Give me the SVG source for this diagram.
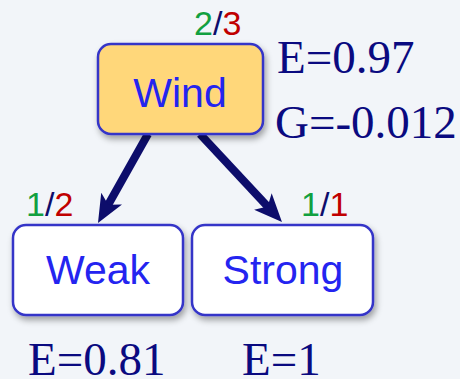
<svg xmlns="http://www.w3.org/2000/svg" width="460" height="379" viewBox="0 0 460 379">
<defs>
<filter id="sh" x="-10%" y="-10%" width="130%" height="140%">
<feDropShadow dx="2" dy="4" stdDeviation="3" flood-color="#000" flood-opacity="0.35"/>
</filter>
<marker id="ah" markerUnits="userSpaceOnUse" viewBox="0 0 28 24" markerWidth="28" markerHeight="24" refX="10" refY="12" orient="auto">
<path d="M0,0 L28,12 L0,24 L7,12 z" fill="#0d0d6b"/>
</marker>
<style>
.box{stroke:#3434c8;stroke-width:2.5}
.lbl{font-family:"Liberation Sans",Arial,sans-serif;font-size:41px;fill:#2424f0;text-anchor:middle}
.cnt{font-family:"Liberation Sans",Arial,sans-serif;font-size:34px}
.g{fill:#12a040}.r{fill:#c00000}.s{fill:#0d0d6b}
.ent{font-family:"Liberation Serif","Times New Roman",serif;font-size:47px;fill:#0a0a80}
.arr{stroke:#0d0d6b;stroke-width:8;fill:none;marker-end:url(#ah)}
</style>
</defs>
<rect width="460" height="379" fill="#f2f5f9"/>
<g id="connectors">
<line class="arr" x1="148" y1="134" x2="106.8" y2="207.3"/>
<line class="arr" x1="200" y1="134" x2="269.7" y2="208.8"/>
</g>
<g id="wind">
<rect class="box" x="98" y="44" width="165" height="90" rx="13" fill="#ffd77a" filter="url(#sh)"/>
<text class="lbl" x="180" y="107">Wind</text>
<text class="cnt" x="194" y="35"><tspan class="g">2</tspan><tspan class="s">/</tspan><tspan class="r">3</tspan></text>
<text class="ent" x="277" y="73">E=0.97</text>
<text class="ent" x="275" y="138">G=-0.012</text>
</g>
<g id="weak">
<rect class="box" x="13" y="225" width="170" height="90" rx="13" fill="#ffffff" filter="url(#sh)"/>
<text class="lbl" x="98" y="284">Weak</text>
<text class="cnt" x="26" y="216"><tspan class="g">1</tspan><tspan class="s">/</tspan><tspan class="r">2</tspan></text>
<text class="ent" x="28" y="375">E=0.81</text>
</g>
<g id="strong">
<rect class="box" x="192" y="225" width="181" height="90" rx="13" fill="#ffffff" filter="url(#sh)"/>
<text class="lbl" x="283" y="284">Strong</text>
<text class="cnt" x="301" y="216"><tspan class="g">1</tspan><tspan class="s">/</tspan><tspan class="r">1</tspan></text>
<text class="ent" x="242" y="375">E=1</text>
</g>
</svg>
